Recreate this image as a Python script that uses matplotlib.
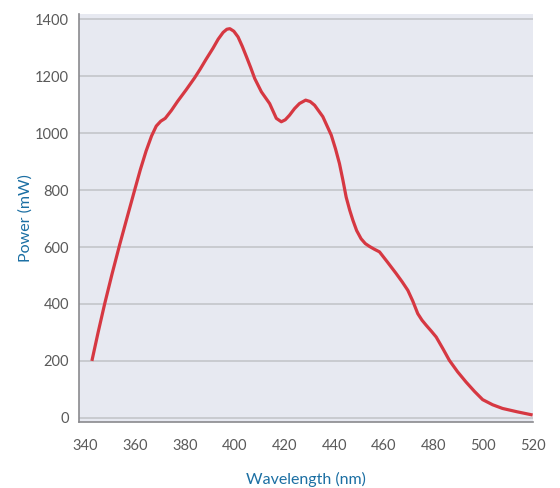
import matplotlib
matplotlib.use('Agg')
import matplotlib.pyplot as plt

# spectrum
wavelength = [342.5, 345.0, 347.6, 350.6, 353.7, 356.7, 359.7, 362.0, 364.3, 366.5,
              368.4, 370.2, 372.0, 374.5, 377.0, 380.4, 383.8, 386.0, 388.4, 391.2,
              393.3, 395.3, 396.8, 398.0, 399.6, 401.3, 403.0, 404.7, 406.4, 408.0,
              410.7, 414.0, 416.7, 418.7, 420.3, 422.0, 424.0, 426.0, 428.5, 430.3,
              432.1, 435.4, 438.8, 440.5, 442.1, 443.5, 444.8, 446.2, 447.5, 449.0,
              450.8, 452.5, 454.2, 456.2, 458.2, 461.5, 464.9, 467.3, 469.6, 471.6,
              473.6, 475.3, 477.0, 479.0, 481.0, 483.7, 486.3, 489.6, 493.0, 496.4,
              499.7, 503.7, 507.7, 513.7, 519.8]
power = [200, 300, 399, 505, 609, 705, 800, 872, 937, 990,
         1025, 1042, 1052, 1080, 1112, 1152, 1194, 1224, 1259, 1298,
         1330, 1354, 1365, 1367, 1358, 1338, 1305, 1268, 1230, 1192,
         1145, 1104, 1052, 1040, 1047, 1063, 1086, 1104, 1116, 1111,
         1098, 1058, 993, 945, 893, 834, 775, 730, 694, 658,
         629, 612, 602, 592, 583, 546, 507, 478, 448, 410,
         366, 343, 325, 305, 284, 243, 202, 162, 126, 93,
         64, 46, 33, 21, 10]
xticks = [340, 360, 380, 400, 420, 440, 460, 480, 500, 520]
yticks = [0, 200, 400, 600, 800, 1000, 1200, 1400]

plt.rcParams['font.family'] = ['Lato', 'DejaVu Sans']

fig = plt.figure(figsize=(5.6, 4.88), dpi=100)
ax = fig.add_axes([0.141, 0.135, 0.811, 0.836])
ax.set_facecolor('#e7e9f1')

ax.plot(wavelength, power, color='#d63842', linewidth=2.3,
        solid_joinstyle='round', solid_capstyle='butt', zorder=3)

ax.set_xlim(337.3, 520)
ax.set_ylim(-15, 1418)
ax.set_xticks(xticks)
ax.set_yticks(yticks)
ax.yaxis.grid(True, color='#c4c5ca', linewidth=1.2)
ax.set_axisbelow(True)
ax.tick_params(length=0, labelsize=10.5, colors='#5a5a5a', pad=7)
ax.tick_params(axis='x', pad=12)

for side in ['top', 'right']:
    ax.spines[side].set_visible(False)
for side in ['left', 'bottom']:
    ax.spines[side].set_color('#8a8a8e')
    ax.spines[side].set_linewidth(1.2)

ax.set_xlabel('Wavelength (nm)', color='#1b6fa3', fontsize=11.5, labelpad=14)
ax.set_ylabel('Power (mW)', color='#1b6fa3', fontsize=11.5, labelpad=2)

fig.savefig('out.png', dpi=100)
